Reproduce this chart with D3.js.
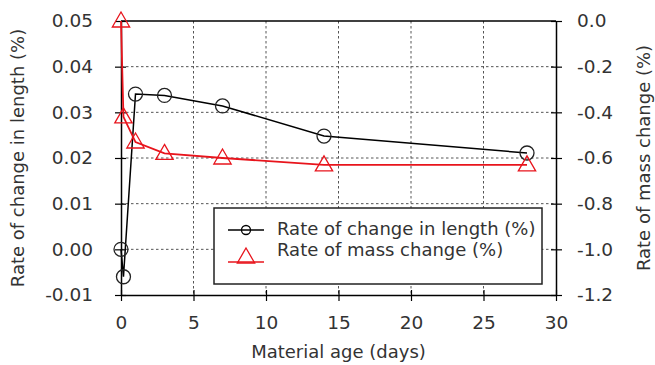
<!DOCTYPE html>
<html>
<head>
<meta charset="utf-8">
<script src="https://cdn.jsdelivr.net/npm/d3@7"></script>
<style>
  body { margin: 0; background: #fff; }
  text { font-family: "DejaVu Sans", Verdana, sans-serif; fill: #333; }
</style>
</head>
<body>
<div id="chart"></div>
<script>
// material age in days
const ageDays = [0, 0.17, 1, 3, 7, 14, 28];
// rate of change in length (%), left axis
const lengthChange = [0.000, -0.006, 0.034, 0.0337, 0.0314, 0.0248, 0.0211];
// rate of mass change (%), right axis
const massChange = [0.0, -0.42, -0.53, -0.58, -0.60, -0.63, -0.63];

const xTicks = [0, 5, 10, 15, 20, 25, 30];
const leftTicks = [-0.01, 0.00, 0.01, 0.02, 0.03, 0.04, 0.05];
const rightTicks = [-1.2, -1.0, -0.8, -0.6, -0.4, -0.2, 0.0];
const seriesNames = ["Rate of change in length (%)", "Rate of mass change (%)"];

const width = 655, height = 365;
const margin = { top: 21, right: 99, bottom: 70, left: 121 };
const w = width - margin.left - margin.right;
const h = height - margin.top - margin.bottom;

const svg = d3.select("#chart")
    .append("svg")
    .attr("width", width)
    .attr("height", height)
    .append("g")
    .attr("transform", `translate(${margin.left}, ${margin.top})`);

const x = d3.scaleLinear().domain([0, 30]).range([0, w]);
const yL = d3.scaleLinear().domain([-0.01, 0.05]).range([h, 0]);
const yR = d3.scaleLinear().domain([-1.2, 0.0]).range([h, 0]);

// plain hyphen for negatives, like the original
const fmt = f => d => d3.format(f)(d).replace("\u2212", "-");

// dotted grid
svg.append("g")
    .selectAll("line")
    .data(xTicks.slice(1, -1))
    .join("line")
    .attr("x1", d => x(d)).attr("x2", d => x(d))
    .attr("y1", 0).attr("y2", h)
    .style("stroke", "#555")
    .style("stroke-width", 1)
    .style("stroke-dasharray", "2.5,2.5");

svg.append("g")
    .selectAll("line")
    .data(leftTicks.slice(1, -1))
    .join("line")
    .attr("x1", 0).attr("x2", w)
    .attr("y1", d => yL(d)).attr("y2", d => yL(d))
    .style("stroke", "#555")
    .style("stroke-width", 1)
    .style("stroke-dasharray", "2.5,2.5");

// axes
function styleAxis(g) {
    g.selectAll(".domain").style("stroke", "#000").style("stroke-width", 1.5);
    g.selectAll(".tick line").style("stroke", "#000").style("stroke-width", 1.2);
    g.selectAll(".tick text").style("font-size", "18.5px").style("fill", "#333");
}

const xAxis = svg.append("g")
    .attr("transform", `translate(0, ${h})`)
    .call(d3.axisBottom(x).tickValues(xTicks).tickSizeInner(6).tickSizeOuter(0).tickPadding(15))
    .call(styleAxis);
xAxis.selectAll(".tick line").attr("y1", -5);

const leftAxis = svg.append("g")
    .call(d3.axisLeft(yL).tickValues(leftTicks).tickFormat(fmt(".2f")).tickSizeInner(6).tickSizeOuter(0).tickPadding(22))
    .call(styleAxis);
leftAxis.selectAll(".tick line").attr("x1", 5);

const rightAxis = svg.append("g")
    .attr("transform", `translate(${w}, 0)`)
    .call(d3.axisRight(yR).tickValues(rightTicks).tickFormat(fmt(".1f")).tickSizeInner(6).tickSizeOuter(0).tickPadding(15))
    .call(styleAxis);
rightAxis.selectAll(".tick line").attr("x1", -5);

// top border
svg.append("line")
    .attr("x1", 0).attr("x2", w)
    .attr("y1", 0).attr("y2", 0)
    .style("stroke", "#000")
    .style("stroke-width", 1.5);

// series
const lenLine = d3.line()
    .x((d, i) => x(ageDays[i]))
    .y(d => yL(d));
const massLine = d3.line()
    .x((d, i) => x(ageDays[i]))
    .y(d => yR(d));

svg.append("path")
    .attr("d", lenLine(lengthChange))
    .style("fill", "none")
    .style("stroke", "#000")
    .style("stroke-width", 1.5);

svg.append("g")
    .selectAll("circle")
    .data(lengthChange)
    .join("circle")
    .attr("cx", (d, i) => x(ageDays[i]))
    .attr("cy", d => yL(d))
    .attr("r", 7)
    .style("fill", "none")
    .style("stroke", "#222")
    .style("stroke-width", 1.3);

svg.append("path")
    .attr("d", massLine(massChange))
    .style("fill", "none")
    .style("stroke", "#e8141c")
    .style("stroke-width", 1.8);

const tri = d3.symbol().type(d3.symbolTriangle).size(130);
svg.append("g")
    .selectAll("path")
    .data(massChange)
    .join("path")
    .attr("d", tri)
    .attr("transform", (d, i) => `translate(${x(ageDays[i])}, ${yR(d) + 1})`)
    .style("fill", "none")
    .style("stroke", "#e8141c")
    .style("stroke-width", 1.3);

// legend
const legend = svg.append("g")
    .attr("transform", "translate(93, 187)");

legend.append("rect")
    .attr("width", 328).attr("height", 76)
    .style("fill", "#fff")
    .style("stroke", "#222")
    .style("stroke-width", 1.5);

legend.append("line")
    .attr("x1", 14).attr("x2", 50).attr("y1", 22).attr("y2", 22)
    .style("stroke", "#000").style("stroke-width", 1.5);
legend.append("circle")
    .attr("cx", 32).attr("cy", 22).attr("r", 4.5)
    .style("fill", "none").style("stroke", "#000").style("stroke-width", 1.3);

legend.append("line")
    .attr("x1", 14).attr("x2", 50).attr("y1", 54).attr("y2", 54)
    .style("stroke", "#e8141c").style("stroke-width", 1.5);
legend.append("path")
    .attr("d", tri)
    .attr("transform", "translate(32, 50)")
    .style("fill", "none").style("stroke", "#e8141c").style("stroke-width", 1.3);

legend.selectAll("text")
    .data(seriesNames)
    .join("text")
    .attr("x", 63)
    .attr("y", (d, i) => 21 + i * 21)
    .attr("dy", "0.35em")
    .style("font-size", "18px")
    .text(d => d);

// axis titles
svg.append("text")
    .attr("transform", `translate(${-103}, ${h / 2}) rotate(-90)`)
    .attr("text-anchor", "middle")
    .attr("dy", "0.35em")
    .style("font-size", "18px")
    .text("Rate of change in length (%)");

svg.append("text")
    .attr("transform", `translate(${w + 88}, ${h / 2}) rotate(-90)`)
    .attr("text-anchor", "middle")
    .attr("dy", "0.35em")
    .style("font-size", "18px")
    .text("Rate of mass change (%)");

svg.append("text")
    .attr("x", w / 2)
    .attr("y", h + 63)
    .attr("text-anchor", "middle")
    .style("font-size", "18px")
    .text("Material age (days)");
</script>
</body>
</html>
